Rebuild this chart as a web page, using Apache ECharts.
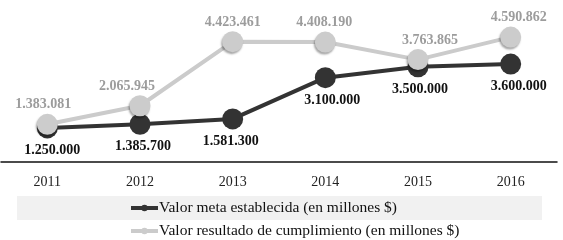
<!DOCTYPE html>
<html style="height: 100%">
<head>
  <meta charset="UTF-8">
  <title>Valor meta vs resultado</title>
  <script src="https://cdn.jsdelivr.net/npm/echarts@6/dist/echarts.min.js"></script>
  <style>
    body { margin: 0; height: 100%; background: #fff; }
    #main { width: 563px; height: 240px; }
  </style>
</head>
<body>
  <div id="main"></div>
  <script>
    const years = ['2011', '2012', '2013', '2014', '2015', '2016'];
    const metaValues = [1250000, 1385700, 1581300, 3100000, 3500000, 3600000];
    const resultValues = [1383081, 2065945, 4423461, 4408190, 3763865, 4590862];
    const metaName = 'Valor meta establecida (en millones $)';
    const resultName = 'Valor resultado de cumplimiento (en millones $)';

    // small horizontal nudges for the value labels
    const metaShift = [5, 3, -2, 7, 2, 8];
    const resultShift = [-4, -13, 0, -1, 12, 8];

    const serif = "'Liberation Serif', 'Times New Roman', serif";

    // 1.250.000 style
    function fmt(v) {
      return String(v).replace(/\B(?=(\d{3})+(?!\d))/g, '.');
    }

    function legendRow(name, top) {
      return {
        data: [name],
        left: 129,
        top: top,
        padding: 0,
        itemWidth: 27,
        itemHeight: 8,
        itemGap: 0,
        lineStyle: { width: 4 },
        textStyle: { fontFamily: serif, fontSize: 15.5, color: '#111', padding: [0, 0, 0, -4] }
      };
    }

    const chart = echarts.init(document.getElementById('main'));

    const option = {
      animation: false,
      grid: { left: 1, right: 6, top: 26, bottom: 74 },
      xAxis: {
        type: 'category',
        data: years,
        boundaryGap: true,
        axisLine: { lineStyle: { color: '#111', width: 1.5 } },
        axisTick: { show: false },
        axisLabel: { fontFamily: serif, fontSize: 14, color: '#222', margin: 9 }
      },
      yAxis: {
        type: 'value',
        min: -150000,
        max: 5000000,
        show: false,
        splitLine: { show: false }
      },
      legend: [legendRow(metaName, 200), legendRow(resultName, 223)],
      graphic: [{
        type: 'rect',
        z: -10,
        shape: { x: 17, y: 196, width: 525, height: 24 },
        style: { fill: '#f1f1f1' }
      }],
      series: [
        {
          name: metaName,
          type: 'line',
          data: metaValues.map((v, i) => ({
            value: v,
            label: { offset: [metaShift[i], 0] }
          })),
          symbol: 'circle',
          symbolSize: 21,
          lineStyle: { color: '#333', width: 4 },
          itemStyle: { color: '#333' },
          label: {
            show: true,
            position: 'bottom',
            distance: 5,
            fontFamily: serif,
            fontSize: 14,
            fontWeight: 'bold',
            color: '#111',
            formatter: p => fmt(p.value)
          },
          z: 2
        },
        {
          name: resultName,
          type: 'line',
          data: resultValues.map((v, i) => ({
            value: v,
            label: { offset: [resultShift[i], 0] }
          })),
          symbol: 'circle',
          symbolSize: 21,
          lineStyle: { color: '#cbcbcb', width: 4 },
          itemStyle: {
            color: '#cccccc',
            shadowColor: 'rgba(0,0,0,0.35)',
            shadowBlur: 2,
            shadowOffsetX: -1,
            shadowOffsetY: 2
          },
          label: {
            show: true,
            position: 'top',
            distance: 2,
            fontFamily: serif,
            fontSize: 14,
            fontWeight: 'bold',
            color: '#9c9c9c',
            formatter: p => fmt(p.value)
          },
          z: 3
        }
      ]
    };

    chart.setOption(option);
  </script>
</body>
</html>
